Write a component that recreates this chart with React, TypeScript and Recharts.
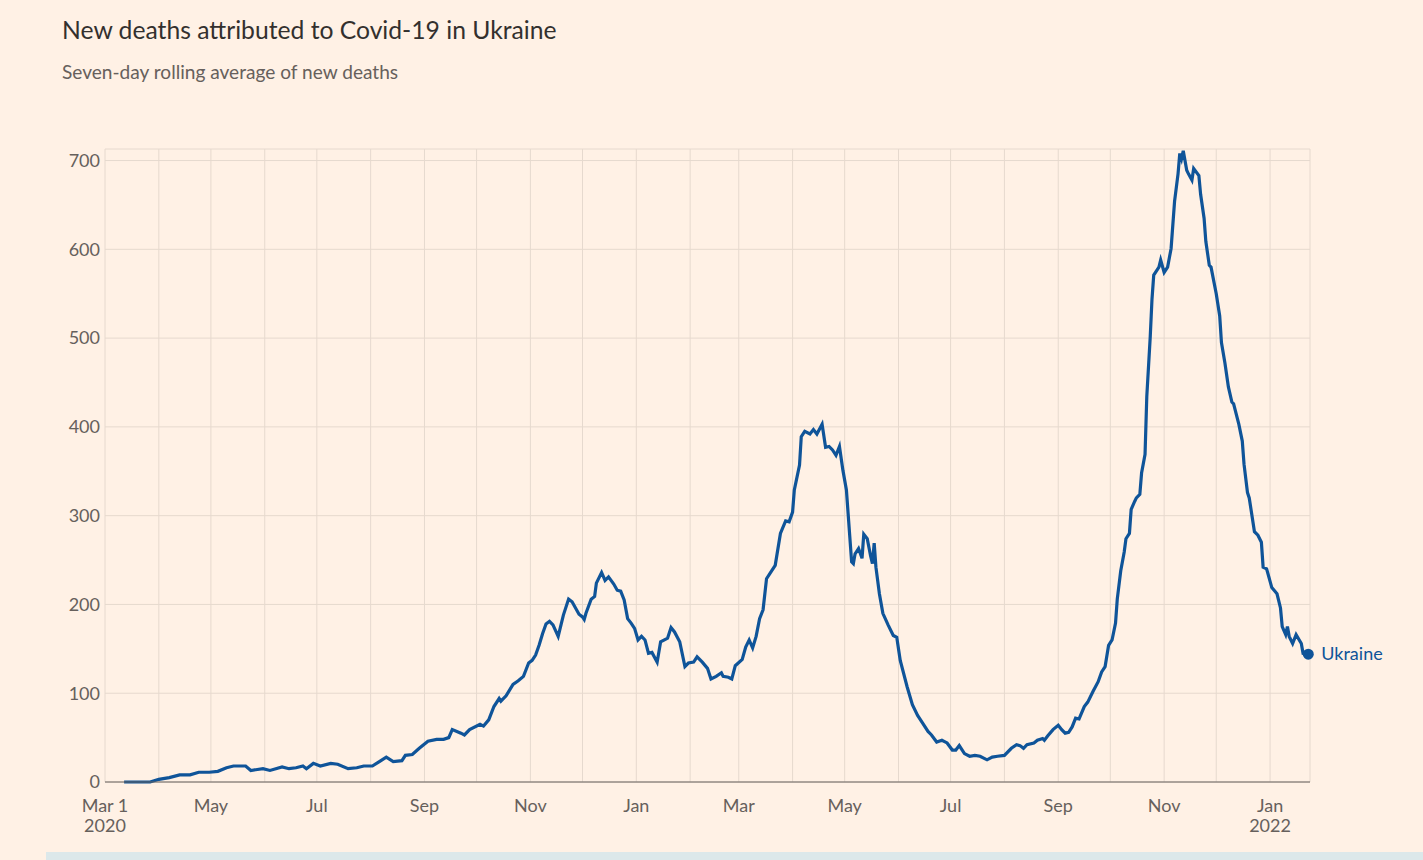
import React from 'react';
import { LineChart, Line, XAxis, YAxis, CartesianGrid } from 'recharts';

const START = Date.UTC(2020, 2, 1);
const DAY = 86400000;

// Days since 1 March 2020
const dayOffsets = [
  11, 26, 31, 37, 43, 49, 54, 60, 65, 70, 74, 81, 84, 91, 95, 102, 106, 110, 114, 116,
  120, 124, 130, 134, 140, 145, 149, 154, 158, 162, 166, 171, 173, 177, 181, 186, 191, 195, 198, 200,
  205, 207, 210, 216, 218, 221, 224, 227, 228, 231, 235, 238, 241, 244, 246, 248, 250, 252, 254, 256,
  258, 261, 264, 267, 269, 273, 275, 276, 277, 280, 282, 283, 286, 288, 290, 293, 295, 297, 299, 301,
  303, 305, 307, 309, 311, 313, 315, 318, 320, 323, 324, 326, 328, 331, 334, 336, 339, 341, 344, 347,
  349, 352, 355, 356, 359, 361, 363, 367, 369, 371, 373, 375, 377, 379, 381, 383, 386, 389, 392, 394,
  396, 397, 400, 401, 403, 406, 408, 410, 413, 415, 417, 419, 421, 423, 425, 427, 428, 430, 431, 432,
  434, 436, 437, 439, 441, 442, 443, 444, 446, 448, 451, 454, 456, 458, 462, 465, 468, 471, 474, 476,
  479, 482, 485, 488, 490, 492, 495, 498, 501, 504, 508, 511, 514, 518, 522, 525, 527, 529, 531, 535,
  537, 540, 541, 543, 546, 549, 551, 553, 555, 557, 559, 561, 564, 566, 569, 572, 574, 576, 578, 580,
  582, 583, 585, 587, 588, 590, 591, 593, 594, 596, 597, 599, 600, 602, 603, 604, 607, 608, 610, 612,
  614, 616, 618, 619, 620, 621, 623, 624, 626, 627, 630, 631, 633, 634, 636, 637, 640, 642, 643, 645,
  647, 649, 650, 653, 655, 656, 658, 659, 662, 664, 666, 667, 669, 672, 675, 677, 678, 680, 681, 682,
  684, 686, 689, 690, 693,
];

// Seven-day rolling average of new deaths
const deaths = [
  0, 0, 3, 5, 8, 8, 11, 11, 12, 16, 18, 18, 13, 15, 13, 17, 15, 16, 18, 15,
  21, 18, 21, 20, 15, 16, 18, 18, 23, 28, 23, 24, 30, 31, 38, 46, 48, 48, 50, 59,
  55, 53, 59, 65, 63, 70, 85, 94, 91, 97, 110, 114, 119, 134, 137, 143, 154, 167, 178, 181,
  177, 164, 188, 206, 203, 189, 186, 183, 190, 206, 209, 224, 236, 227, 231, 223, 216, 215, 205, 184,
  179, 173, 160, 164, 160, 145, 146, 135, 158, 161, 162, 174, 169, 158, 130, 134, 135, 141, 135, 128,
  116, 119, 123, 119, 118, 116, 131, 138, 152, 160, 151, 164, 184, 194, 229, 235, 244, 280, 294, 293,
  304, 329, 357, 389, 395, 392, 397, 392, 403, 377, 378, 374, 368, 378, 351, 329, 302, 248, 246, 257,
  263, 252, 279, 274, 254, 246, 269, 242, 212, 190, 177, 165, 163, 137, 107, 87, 75, 66, 57, 53,
  45, 47, 44, 36, 36, 41, 32, 29, 30, 29, 25, 28, 29, 30, 38, 42, 41, 38, 42, 44,
  47, 49, 47, 52, 59, 64, 59, 55, 56, 62, 72, 71, 85, 90, 102, 113, 124, 130, 154, 160,
  179, 206, 238, 259, 274, 280, 307, 316, 320, 324, 348, 369, 434, 502, 544, 571, 580, 588, 574, 580,
  601, 654, 685, 708, 702, 711, 689, 685, 678, 691, 683, 662, 635, 609, 582, 580, 550, 525, 495, 472,
  445, 428, 426, 403, 384, 358, 326, 320, 282, 278, 270, 242, 240, 219, 212, 196, 175, 166, 175, 164,
  156, 166, 156, 145, 144,
];

const monthTickDates = [
  '2020-03-01', '2020-04-01', '2020-05-01', '2020-06-01', '2020-07-01', '2020-08-01',
  '2020-09-01', '2020-10-01', '2020-11-01', '2020-12-01', '2021-01-01', '2021-02-01',
  '2021-03-01', '2021-04-01', '2021-05-01', '2021-06-01', '2021-07-01', '2021-08-01',
  '2021-09-01', '2021-10-01', '2021-11-01', '2021-12-01', '2022-01-01',
];
const monthTickLabels = [
  ['Mar 1', '2020'], [], ['May'], [], ['Jul'], [], ['Sep'], [], ['Nov'], [], ['Jan'], [],
  ['Mar'], [], ['May'], [], ['Jul'], [], ['Sep'], [], ['Nov'], [], ['Jan', '2022'],
];
const yTicks = [0, 100, 200, 300, 400, 500, 600, 700];
const seriesName = 'Ukraine';

const BLUE = '#0f5499';
const BG = '#fff1e5';
const GRID = '#e6d9ce';
const TEXT = '#66605c';
const FONT = 'Lato, "Open Sans", sans-serif';

const data = dayOffsets.map((d, i) => ({ t: START + d * DAY, v: deaths[i] }));
const xTicks = monthTickDates.map((s) => Date.parse(s));
const labelByTick: Record<number, string[]> = {};
xTicks.forEach((t, i) => {
  labelByTick[t] = monthTickLabels[i];
});

const XTick = (props: any) => {
  const { x, y, payload } = props;
  const lines = labelByTick[payload.value] || [];
  return (
    <g>
      {lines.map((l: string, i: number) => (
        <text key={i} x={x} y={y + 30 + i * 20} textAnchor="middle" fill={TEXT} fontSize={18} fontFamily={FONT}>
          {l}
        </text>
      ))}
    </g>
  );
};

const renderDot = (props: any) => {
  const { cx, cy, index } = props;
  if (index !== data.length - 1) return <g key={`d${index}`} />;
  return (
    <g key="end">
      <circle cx={cx} cy={cy} r={5.5} fill={BLUE} />
      <text x={cx + 13} y={cy} dy="0.35em" fill={BLUE} fontSize={18} fontFamily={FONT}>
        {seriesName}
      </text>
    </g>
  );
};

export default function App() {
  return (
    <div style={{ position: 'absolute', left: 0, top: 0, width: 1423, height: 860, background: BG, overflow: 'hidden', fontFamily: FONT }}>
      <div style={{ position: 'absolute', left: 62, top: 15, fontSize: 24.7, color: '#33302e', whiteSpace: 'nowrap' }}>
        New deaths attributed to Covid-19 in Ukraine
      </div>
      <div style={{ position: 'absolute', left: 62, top: 60, fontSize: 19.1, color: TEXT, whiteSpace: 'nowrap' }}>
        Seven-day rolling average of new deaths
      </div>
      <div style={{ position: 'absolute', left: 0, top: 0 }}>
        <LineChart width={1423} height={860} data={data} margin={{ top: 149, right: 113, bottom: 18, left: 45 }}>
          <CartesianGrid stroke={GRID} strokeWidth={1} />
          <XAxis
            dataKey="t"
            type="number"
            scale="time"
            domain={[START, START + 694 * DAY]}
            ticks={xTicks}
            tick={<XTick />}
            tickLine={false}
            tickSize={0}
            tickMargin={0}
            axisLine={{ stroke: '#66605c', strokeWidth: 1 }}
            height={60}
            interval={0}
          />
          <YAxis
            type="number"
            domain={[0, 713]}
            ticks={yTicks}
            width={60}
            axisLine={false}
            tickLine={false}
            tickSize={3}
            tickMargin={2}
            tick={{ fill: TEXT, fontSize: 18, fontFamily: FONT }}
            interval={0}
          />
          <Line
            type="linear"
            dataKey="v"
            stroke={BLUE}
            strokeWidth={3.2}
            dot={renderDot}
            activeDot={false}
            isAnimationActive={false}
          />
        </LineChart>
      </div>
      <div style={{ position: 'absolute', left: 46, top: 852, width: 1377, height: 8, background: '#dce8ea' }} />
    </div>
  );
}
